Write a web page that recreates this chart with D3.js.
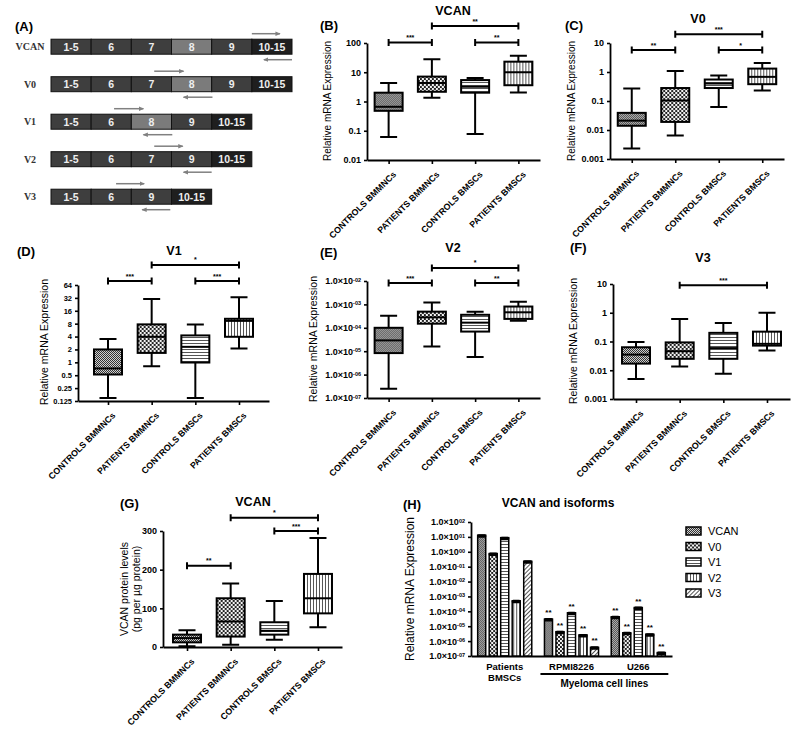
<!DOCTYPE html>
<html>
<head>
<meta charset="utf-8">
<script src="https://d3js.org/d3.v7.min.js"></script>
<style>
  body { margin: 0; background: #fff; }
  svg { font-family: "Liberation Sans", Arial, sans-serif; }
</style>
</head>
<body>
<svg id="fig" width="800" height="729"></svg>
<script>
// ---------- data ----------
const isoforms = ["VCAN", "V0", "V1", "V2", "V3"];
const exons = [
  ["1-5", "6", "7", "8", "9", "10-15"],
  ["1-5", "6", "7", "8", "9", "10-15"],
  ["1-5", "6", "8", "9", "10-15"],
  ["1-5", "6", "7", "9", "10-15"],
  ["1-5", "6", "9", "10-15"]
];
// primer arrows, in exon units [from, to]
const fwdPrimers = [[5.0, 5.7], [2.57, 3.3], [1.57, 2.3], [2.57, 3.28], [1.62, 2.32]];
const revPrimers = [[6.0, 5.3], [4.02, 3.3], [3.02, 2.3], [4.0, 3.3], [2.97, 2.27]];

const boxGroups = ["CONTROLS BMMNCs", "PATIENTS BMMNCs", "CONTROLS BMSCs", "PATIENTS BMSCs"];
// [min, q1, median, q3, max]
const vcanMrna = [[0.061, 0.48, 0.66, 2.0, 4.3], [1.35, 2.15, 4.3, 7.1, 28], [0.078, 2.0, 3.2, 5.4, 6.3], [2.05, 3.6, 10, 23, 37]];
const v0Mrna = [[0.0023, 0.014, 0.021, 0.039, 0.27], [0.0065, 0.019, 0.104, 0.28, 1.08], [0.062, 0.28, 0.40, 0.55, 0.75], [0.23, 0.38, 0.68, 1.31, 2.05]];
const v1Mrna = [[0.147, 0.52, 0.72, 2.0, 3.5], [0.81, 1.66, 3.95, 7.7, 30], [0.147, 0.99, 2.3, 4.25, 7.7], [2.1, 3.95, 9.3, 10.4, 33]];
const v2Mrna = [[2.5e-7, 8.3e-6, 2.9e-5, 1.0e-4, 3.3e-4], [1.6e-5, 1.5e-4, 2.8e-4, 4.9e-4, 1.2e-3], [5.6e-6, 6.9e-5, 1.66e-4, 3.6e-4, 4.8e-4], [2.0e-4, 2.4e-4, 4.6e-4, 8.1e-4, 1.3e-3]];
const v3Mrna = [[0.005, 0.017, 0.035, 0.063, 0.096], [0.0135, 0.025, 0.046, 0.093, 0.61], [0.0076, 0.025, 0.059, 0.20, 0.44], [0.049, 0.072, 0.083, 0.22, 1.0]];
const vcanProtein = [[2, 12, 23, 32, 43], [6, 27, 66, 126, 164], [19, 32, 42, 64, 119], [51, 87, 126, 189, 282]];

// significance: [group a, group b, label, bracket level (data units)]
const vcanMrnaSig = [[0, 1, "***", 105], [1, 3, "**", 380], [2, 3, "**", 105]];
const v0Sig = [[0, 1, "**", 5.7], [1, 3, "***", 20], [2, 3, "*", 5.7]];
const v1Sig = [[0, 1, "***", 79], [1, 3, "*", 188], [2, 3, "***", 79]];
const v2Sig = [[0, 1, "***", 0.0082], [1, 3, "*", 0.036], [2, 3, "**", 0.0082]];
const v3Sig = [[1, 3, "***", 9]];
const proteinSig = [[0, 1, "**", 210], [1, 3, "*", 334], [2, 3, "***", 300]];

const ticksDec2 = [0.01, 0.1, 1, 10, 100];
const ticksDec3 = [0.001, 0.01, 0.1, 1, 10];
const ticksPow2 = [0.125, 0.25, 0.5, 1, 2, 4, 8, 16, 32, 64];
const ticksV2 = [1e-7, 1e-6, 1e-5, 1e-4, 1e-3, 1e-2];
const ticksProtein = [0, 100, 200, 300];
const ticksH = [1e-7, 1e-6, 1e-5, 1e-4, 1e-3, 1e-2, 1e-1, 1, 10, 100];

const hGroups = ["Patients BMSCs", "RPMI8226", "U266"];
const hPatients = [13, 0.76, 8.9, 5.1e-4, 0.23];
const hRpmi = [3.0e-5, 4.3e-6, 8.0e-5, 2.6e-6, 3.8e-7];
const hU266 = [4.3e-5, 3.6e-6, 1.8e-4, 2.9e-6, 1.7e-7];
const hStars = ["", "**", "**"];

// ---------- setup ----------
const svg = d3.select("#fig");
const defs = svg.append("defs");

function tile(id, w, h, draw, rot) {
  const p = defs.append("pattern").attr("id", id)
    .attr("patternUnits", "userSpaceOnUse").attr("width", w).attr("height", h);
  if (rot) p.attr("patternTransform", "rotate(" + rot + ")");
  draw(p);
}
tile("pFine", 2, 2, p => {
  p.append("rect").attr("width", 2).attr("height", 2).attr("fill", "#d0d0d0");
  p.append("rect").attr("width", 1).attr("height", 1).attr("fill", "#333");
  p.append("rect").attr("x", 1).attr("y", 1).attr("width", 1).attr("height", 1).attr("fill", "#333");
});
tile("pBig", 4, 4, p => {
  p.append("rect").attr("width", 4).attr("height", 4).attr("fill", "#1a1a1a");
  p.append("circle").attr("cx", 1).attr("cy", 1).attr("r", 1.15).attr("fill", "#fff");
  p.append("circle").attr("cx", 3).attr("cy", 3).attr("r", 1.15).attr("fill", "#fff");
});
tile("pHoriz", 4, 3, p => {
  p.append("rect").attr("width", 4).attr("height", 3).attr("fill", "#fff");
  p.append("rect").attr("y", 1).attr("width", 4).attr("height", 1).attr("fill", "#555");
});
tile("pVert", 3, 4, p => {
  p.append("rect").attr("width", 3).attr("height", 4).attr("fill", "#fff");
  p.append("rect").attr("x", 1).attr("width", 1).attr("height", 4).attr("fill", "#555");
});
tile("pDiag", 3, 3, p => {
  p.append("rect").attr("width", 3).attr("height", 3).attr("fill", "#fff");
  p.append("rect").attr("x", 1).attr("width", 1).attr("height", 3).attr("fill", "#555");
}, 45);
const boxFills = ["pFine", "pBig", "pHoriz", "pVert"];
const isoFills = ["pFine", "pBig", "pHoriz", "pVert", "pDiag"];

defs.append("marker").attr("id", "arr").attr("viewBox", "0 0 8 8")
  .attr("refX", 6).attr("refY", 4).attr("markerWidth", 4).attr("markerHeight", 4)
  .attr("orient", "auto")
  .append("path").attr("d", "M0,1L7,4L0,7z").attr("fill", "#808080");

function label(x, y, txt, size, anchor) {
  return svg.append("text").attr("x", x).attr("y", y).attr("font-size", size)
    .attr("font-weight", "bold").attr("text-anchor", anchor || "start").text(txt);
}

function styleAxis(a, size) {
  a.attr("font-family", "Liberation Sans, Arial, sans-serif").attr("font-size", size).attr("font-weight", "bold");
  a.select(".domain").attr("stroke-width", 1.8);
  a.selectAll(".tick line").attr("stroke-width", 1.6);
  a.selectAll(".tick text").attr("fill", "#000");
}

function sciTicks(a, supSize) {
  a.selectAll(".tick text").each(function (d) {
    const e = Math.round(Math.log10(d));
    const t = d3.select(this).text("1.0×10");
    t.append("tspan").attr("dy", "-0.45em").attr("font-size", supSize)
      .text((e < 0 ? "-" : "") + String(Math.abs(e)).padStart(2, "0"));
  });
}

function yTitle(x, y, lines, size) {
  const t = svg.append("text").attr("transform", "translate(" + x + "," + y + ") rotate(-90)")
    .attr("text-anchor", "middle").attr("font-size", size);
  lines.forEach((l, i) => t.append("tspan").attr("x", 0).attr("dy", i ? "1.1em" : 0).text(l));
}

// ---------- panel A ----------
label(15, 31, "(A)", 13);
const ax = d3.scaleLinear().domain([0, 6]).range([51, 292]);
const ay = d3.scalePoint().domain(isoforms).range([46.7, 196.7]);
const exonFill = e => e === "8" ? "#7b7b7b" : e === "10-15" ? "#1f1f1f" : "#3e3e3e";
isoforms.forEach((iso, r) => {
  const cy = ay(iso);
  svg.append("text").attr("x", 30).attr("y", cy + 3.5).attr("text-anchor", "middle")
    .attr("font-family", "Liberation Serif, serif").attr("font-weight", "bold")
    .attr("font-size", 10).attr("fill", "#333").text(iso);
  const row = svg.append("g");
  row.selectAll("rect").data(exons[r]).join("rect")
    .attr("x", (d, j) => ax(j)).attr("y", cy - 7.5)
    .attr("width", ax(1) - ax(0)).attr("height", 15)
    .attr("fill", exonFill).attr("stroke", "#111").attr("stroke-width", 1);
  row.selectAll("text").data(exons[r]).join("text")
    .attr("x", (d, j) => ax(j + 0.5)).attr("y", cy + 4)
    .attr("text-anchor", "middle").attr("font-size", 10.5).attr("font-weight", "bold")
    .attr("fill", "#eee").text(d => d);
  [[fwdPrimers[r], -13], [revPrimers[r], 13]].forEach(([pr, off]) => {
    svg.append("line").attr("x1", ax(pr[0])).attr("x2", ax(pr[1]))
      .attr("y1", cy + off).attr("y2", cy + off)
      .attr("stroke", "#808080").attr("stroke-width", 1.5).attr("marker-end", "url(#arr)");
  });
});

// ---------- box-plot panels ----------
function boxPanel(c) {
  const g = svg.append("g");
  const x = d3.scalePoint().domain(boxGroups).range([c.left, c.right]).padding(c.pad);
  const y = c.y;
  const bottom = y.range()[0];

  const ya = g.append("g").attr("transform", "translate(" + c.left + ",0)")
    .call(d3.axisLeft(y).tickValues(c.ticks).tickSize(3).tickSizeOuter(0).tickFormat(d => String(d)));
  styleAxis(ya, c.tickSize || 9);
  if (c.sci) sciTicks(ya, 5.5);

  const xa = g.append("g").attr("transform", "translate(0," + bottom + ")")
    .call(d3.axisBottom(x).tickSize(4).tickSizeOuter(0));
  styleAxis(xa, 8.8);
  xa.selectAll(".tick text").attr("x", 0).attr("y", 0).attr("dy", 0)
    .attr("text-anchor", "end").attr("transform", "translate(7.5,15) rotate(-45)");

  const bw = 28, cw = 17;
  const bx = g.selectAll(".bx").data(c.data).join("g").attr("class", "bx")
    .attr("transform", (d, i) => "translate(" + x(boxGroups[i]) + ",0)");
  bx.append("line").attr("y1", d => y(d[0])).attr("y2", d => y(d[4]))
    .attr("stroke", "#000").attr("stroke-width", 2);
  bx.append("path")
    .attr("d", d => "M" + (-cw / 2) + "," + y(d[0]) + "h" + cw + "M" + (-cw / 2) + "," + y(d[4]) + "h" + cw)
    .attr("stroke", "#000").attr("stroke-width", 2);
  bx.append("rect").attr("x", -bw / 2).attr("width", bw)
    .attr("y", d => y(d[3])).attr("height", d => y(d[1]) - y(d[3]))
    .attr("fill", (d, i) => "url(#" + boxFills[i] + ")")
    .attr("stroke", "#000").attr("stroke-width", 2);
  bx.append("line").attr("x1", -bw / 2).attr("x2", bw / 2)
    .attr("y1", d => y(d[2])).attr("y2", d => y(d[2]))
    .attr("stroke", "#000").attr("stroke-width", 2);

  c.sig.forEach(([a, b, lab, lev]) => {
    const yy = y(lev), x1 = x(boxGroups[a]), x2 = x(boxGroups[b]);
    g.append("path")
      .attr("d", "M" + x1 + "," + (yy - 3.5) + "V" + (yy + 3.5) + "M" + x1 + "," + yy + "H" + x2 +
        "M" + x2 + "," + (yy - 3.5) + "V" + (yy + 3.5))
      .attr("stroke", "#000").attr("stroke-width", 2).attr("fill", "none");
    g.append("text").attr("x", (x1 + x2) / 2).attr("y", yy - 2.5).attr("text-anchor", "middle")
      .attr("font-size", 7).attr("font-weight", "bold").text(lab);
  });

  label(c.letter[1], c.letter[2], c.letter[0], 13);
  label(c.title[1], c.title[2], c.title[0], 12.5, "middle");
  yTitle(c.ylab[0], c.ylab[1], c.ylab[2], c.ylab[3]);
}

const relExpr = ["Relative mRNA Expression"];

boxPanel({
  data: vcanMrna, sig: vcanMrnaSig, ticks: ticksDec2,
  y: d3.scaleLog().domain([0.01, 100]).range([160, 43]),
  left: 367, right: 540, pad: 0.5,
  letter: ["(B)", 320, 30], title: ["VCAN", 453, 15], ylab: [331, 101, relExpr, 10]
});
boxPanel({
  data: v0Mrna, sig: v0Sig, ticks: ticksDec3,
  y: d3.scaleLog().domain([0.001, 10]).range([159, 43]),
  left: 610, right: 784, pad: 0.5,
  letter: ["(C)", 565, 30], title: ["V0", 698, 23], ylab: [575, 101, relExpr, 10]
});
boxPanel({
  data: v1Mrna, sig: v1Sig, ticks: ticksPow2, tickSize: 7.5,
  y: d3.scaleLog().base(2).domain([0.125, 64]).range([401, 285]),
  left: 78, right: 269, pad: 0.687,
  letter: ["(D)", 17, 256], title: ["V1", 174, 255], ylab: [48, 342, relExpr, 10.5]
});
boxPanel({
  data: v2Mrna, sig: v2Sig, ticks: ticksV2, sci: true,
  y: d3.scaleLog().domain([1e-7, 1e-2]).range([398, 281]),
  left: 367, right: 540, pad: 0.5,
  letter: ["(E)", 320, 257], title: ["V2", 453, 252], ylab: [317, 339, relExpr, 10.5]
});
boxPanel({
  data: v3Mrna, sig: v3Sig, ticks: ticksDec3,
  y: d3.scaleLog().domain([0.001, 10]).range([399, 284]),
  left: 613, right: 790, pad: 0.527,
  letter: ["(F)", 570, 252], title: ["V3", 703, 262], ylab: [577, 341, relExpr, 10.5]
});
boxPanel({
  data: vcanProtein, sig: proteinSig, ticks: ticksProtein,
  y: d3.scaleLinear().domain([0, 300]).range([647, 531]),
  left: 163, right: 342, pad: 0.55,
  letter: ["(G)", 120, 508], title: ["VCAN", 253, 506],
  ylab: [128, 589, ["VCAN protein levels", "(pg per µg protein)"], 10.5]
});

// ---------- panel H ----------
{
  const g = svg.append("g");
  const left = 471, right = 672;
  const y = d3.scaleLog().domain([1e-7, 100]).range([656, 522]);
  const xg = d3.scaleBand().domain(hGroups).range([left, right]).paddingInner(0.19).paddingOuter(0.1);
  const xi = d3.scaleBand().domain(isoforms).range([0, xg.bandwidth()]).paddingInner(0.3);
  const hValues = [hPatients, hRpmi, hU266];

  const ya = g.append("g").attr("transform", "translate(" + left + ",0)")
    .call(d3.axisLeft(y).tickValues(ticksH).tickSize(3).tickSizeOuter(0));
  styleAxis(ya, 9);
  sciTicks(ya, 5.5);
  const xa = g.append("g").attr("transform", "translate(0," + y.range()[0] + ")")
    .call(d3.axisBottom(xg).tickSize(0).tickSizeOuter(0).tickFormat(""));
  styleAxis(xa, 9);

  hGroups.forEach((grp, gi) => {
    const gg = g.append("g").attr("transform", "translate(" + xg(grp) + ",0)");
    const bars = gg.selectAll("g").data(hValues[gi]).join("g")
      .attr("transform", (d, i) => "translate(" + xi(isoforms[i]) + ",0)");
    bars.append("rect").attr("width", xi.bandwidth())
      .attr("y", d => y(d)).attr("height", d => y.range()[0] - y(d))
      .attr("fill", (d, i) => "url(#" + isoFills[i] + ")")
      .attr("stroke", "#000").attr("stroke-width", 1.5);
    bars.append("rect").attr("x", -0.5).attr("width", xi.bandwidth() + 1)
      .attr("y", d => y(d) - 1).attr("height", 3.5).attr("rx", 1.5).attr("fill", "#000");
    bars.append("text").attr("x", xi.bandwidth() / 2).attr("y", d => y(d) - 4)
      .attr("text-anchor", "middle").attr("font-size", 8).attr("font-weight", "bold")
      .text(hStars[gi]);
  });

  // category labels
  const c0 = xg(hGroups[0]) + xg.bandwidth() / 2;
  label(c0, 670, "Patients", 9.5, "middle");
  label(c0, 681, "BMSCs", 9.5, "middle");
  hGroups.slice(1).forEach(grp => label(xg(grp) + xg.bandwidth() / 2, 670, grp, 9.5, "middle"));
  const lx1 = xg(hGroups[1]) - 4, lx2 = xg(hGroups[2]) + xg.bandwidth() + 3;
  svg.append("line").attr("x1", lx1).attr("x2", lx2).attr("y1", 674).attr("y2", 674)
    .attr("stroke", "#000").attr("stroke-width", 2);
  label((lx1 + lx2) / 2, 687, "Myeloma cell lines", 10, "middle");

  label(403, 509, "(H)", 13);
  label(558, 507, "VCAN and isoforms", 12, "middle");
  yTitle(414, 589, relExpr, 12);

  // legend
  const ly = d3.scalePoint().domain(isoforms).range([531, 593]);
  const lg = svg.append("g").selectAll("g").data(isoforms).join("g")
    .attr("transform", d => "translate(686," + ly(d) + ")");
  lg.append("rect").attr("y", -4).attr("width", 15).attr("height", 8)
    .attr("fill", (d, i) => "url(#" + isoFills[i] + ")").attr("stroke", "#000").attr("stroke-width", 1.5);
  lg.append("text").attr("x", 22).attr("y", 4).attr("font-size", 11).text(d => d);
}
</script>
</body>
</html>
